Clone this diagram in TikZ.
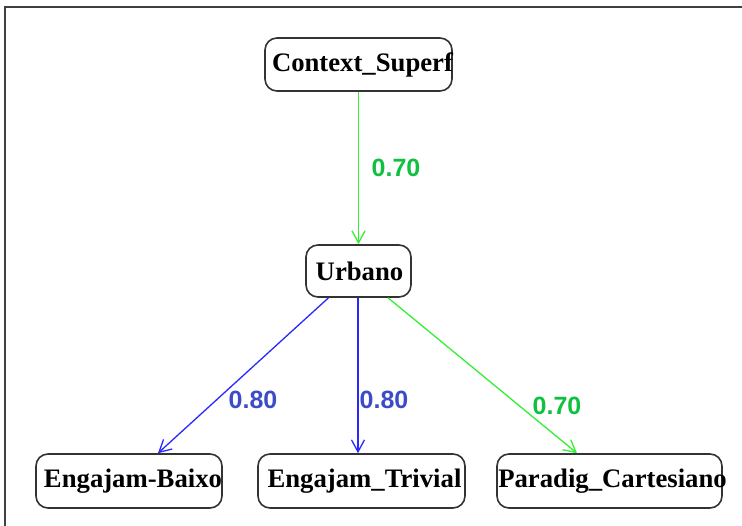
\documentclass[tikz,border=0pt]{standalone}
\usepackage{fontspec}
\setmainfont{Liberation Serif}
\newfontfamily\labelfont{Liberation Sans}
\usetikzlibrary{arrows.meta}
\definecolor{edgegreen}{HTML}{33F033}
\definecolor{labgreen}{HTML}{10C040}
\definecolor{edgeblue}{HTML}{2828FF}
\definecolor{labblue}{HTML}{3C4CC8}
\definecolor{framegray}{HTML}{404040}
\newcommand{\boxtxt}[2]{\makebox[0pt]{\hspace*{#1}#2}}
\tikzset{
  box/.style={draw=black!80, line width=1.6pt, rounded corners=12pt, fill=white,
    inner sep=0pt, font=\fontsize{26.7}{26.7}\selectfont\bfseries},
  conn/.style={line width=1.3pt, -{Straight Barb[length=12pt,width=13pt,line width=1.3pt]}},
  gconn/.style={conn, draw=edgegreen},
  bconn/.style={conn, draw=edgeblue},
  glab/.style={text=labgreen, font=\labelfont\fontsize{25}{25}\selectfont\bfseries},
  blab/.style={text=labblue, font=\labelfont\fontsize{25}{25}\selectfont\bfseries},
}
\begin{document}
\begin{tikzpicture}[x=1pt,y=-1pt]
\useasboundingbox (0,0) rectangle (742,526);
\draw[framegray, line width=1.8pt] (5,526) -- (5,7) -- (742,7);
\node[box, minimum width=187pt, minimum height=53pt] (cs) at (358.5,64.5) {\boxtxt{8pt}{Context\_Superf}};
\node[box, minimum width=105pt, minimum height=52pt] (ur) at (358.5,271) {\boxtxt{2pt}{Urbano}};
\node[box, minimum width=186pt, minimum height=54pt] (eb) at (129,481) {\boxtxt{8pt}{Engajam-Baixo}};
\node[box, minimum width=207pt, minimum height=54pt] (et) at (361.5,481) {\boxtxt{6pt}{Engajam\_Trivial}};
\node[box, minimum width=225pt, minimum height=54pt] (pc) at (609.5,481) {\boxtxt{6pt}{Paradig\_Cartesiano}};
\draw[gconn] (cs.south) -- (ur.north);
\draw[bconn] ([xshift=-30pt]ur.south) -- ([xshift=29pt]eb.north);
\draw[bconn] ([xshift=-0.5pt]ur.south) -- ([xshift=-3.5pt]et.north);
\draw[gconn] ([xshift=29.5pt]ur.south) -- ([xshift=-32.5pt]pc.north);
\node[glab] (l1) at (396,168) {0.70};
\node[blab] (l2) at (253,400) {0.80};
\node[blab] (l3) at (384,400) {0.80};
\node[glab] (l4) at (557,406) {0.70};
\end{tikzpicture}
\end{document}
